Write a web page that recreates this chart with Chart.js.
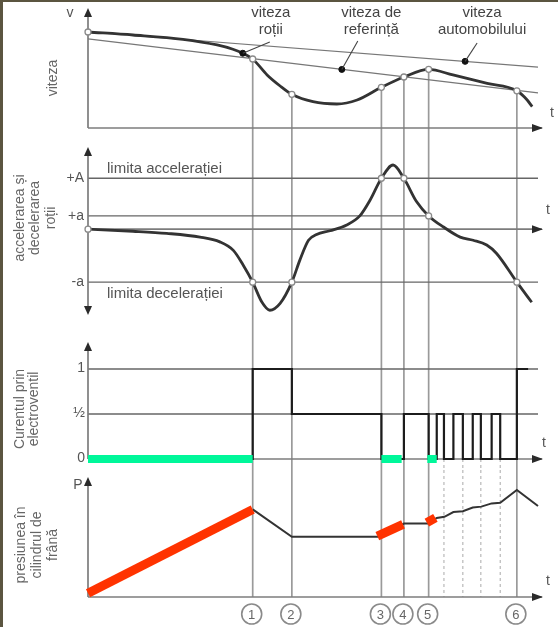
<!DOCTYPE html>
<html>
<head>
<meta charset="utf-8">
<script src="https://cdn.jsdelivr.net/npm/chart.js@4.4.1/dist/chart.umd.min.js"></script>
<style>
  html, body { margin: 0; padding: 0; background: #fff; }
  #wrap { position: relative; width: 558px; height: 627px; overflow: hidden; background: #fff; }
  #wrap canvas { position: absolute; left: 0; }
  .edge { position: absolute; background: #5b5540; }
</style>
</head>
<body>
<div id="wrap">
  <canvas id="cSpeed" width="558" height="137" style="top:0px"></canvas>
  <canvas id="cAccel" width="558" height="193" style="top:137px"></canvas>
  <canvas id="cCurrent" width="558" height="140" style="top:330px"></canvas>
  <canvas id="cPressure" width="558" height="157" style="top:470px"></canvas>
  <div class="edge" style="left:0;top:0;width:3px;height:627px"></div>
  <div class="edge" style="left:0;top:0;width:558px;height:2px"></div>
</div>
<script>
// ---------- switching instants (time axis 0..100) ----------
const eventTimes = [36.6, 45.3, 65.2, 70.2, 75.7, 95.3];
const eventNames = ['1', '2', '3', '4', '5', '6'];
const pulseFallTimes = [79.1, 83.3, 87.3, 91.6];

// ---------- speeds ----------
const wheelT = [0, 10, 21.1, 28.7, 32.2, 34.4, 36.6, 39.8, 42.7, 45.3, 50, 55.3, 59.8, 65.2, 70.2, 75.7, 81.1, 88.7, 95.3, 97.6, 98.7];
const wheelV = [80, 77.5, 73.9, 69.2, 65.6, 62.3, 57.5, 44.2, 35, 28.1, 21.9, 20, 23.3, 33.9, 42.5, 48.9, 44.2, 37.2, 31, 23.3, 17.8];
const vehicleT = [0, 100];
const vehicleV = [80, 50.8];
const referenceT = [0, 100];
const referenceV = [74.2, 29.2];
const speedNoteText = [['viteza', 'roții'], ['viteza de', 'referință'], ['viteza', 'automobilului']];
const speedNoteT = [34.4, 56.4, 83.8];

// ---------- wheel acceleration / deceleration ----------
const accelT = [0, 10, 17.5, 24.9, 29.3, 32.3, 34.5, 36.6, 38.6, 40.4, 42.7, 45.3, 47.1, 49.0, 50.8, 53.8, 57.5, 60.4, 62.7, 65.2, 67.8, 70.2, 73.0, 75.7, 79.0, 82.7, 85.6, 88.6, 90.8, 95.3, 98.6];
const accelV = [0, -0.4, -0.8, -1.5, -2.4, -4, -6.8, -10, -13.7, -15.3, -14, -10, -5.8, -2.1, -1.0, -0.3, 0.8, 2.5, 5.5, 9.6, 12.1, 9.6, 5.2, 2.5, 0.4, -1.5, -2.1, -3.0, -4.6, -10, -13.8];
const accelLimitHigh = 9.6;
const accelLimitLow = 2.5;
const decelLimit = -10;
const accelTickText = ['+A', '+a', '-a'];

// ---------- solenoid valve current ----------
const currentT = [0, 36.6, 45.3, 65.2, 70.2, 75.7, 77.5, 79.1, 81.2, 83.3, 85.5, 87.3, 89.7, 91.6, 95.3, 97.8];
const currentV = [0, 1, 0.5, 0, 0.5, 0, 0.5, 0, 0.5, 0, 0.5, 0, 0.5, 0, 1, 1];
const currentLevels = [1, 0.5, 0];
const currentTickText = ['1', '½', '0'];
const buildStartT = [0, 65.2, 75.4];
const buildEndT = [36.6, 69.7, 77.5];

// ---------- brake cylinder pressure ----------
const pressureT = [36.6, 45.3, 65.2, 70.2, 75.7, 77.5, 79.2, 81.2, 83.3, 85.5, 87.4, 89.7, 91.6, 95.3, 100];
const pressureP = [73, 50.2, 50.2, 61.2, 61.2, 65.8, 66.8, 70.8, 71.5, 74.5, 75.3, 78, 78.6, 89.2, 75.8];
const riseStartT = [0, 64.3, 75.3];
const riseEndT = [36.6, 70.0, 77.2];
const riseStartP = [3.1, 50.8, 61.9];
const riseEndP = [73, 60.5, 66];

// ---------- helpers ----------
const FONT = "'Liberation Sans', Arial, sans-serif";
const GUIDE = '#9a9a9a';
const AXIS = '#7c7c7c';
const LEVEL = '#666';
const INK = '#333';
const TXT = '#555';

function valueAt(ts, vs, t) {
  for (let i = 0; i < ts.length - 1; i++) {
    if (t >= ts[i] && t <= ts[i + 1]) {
      const f = (t - ts[i]) / (ts[i + 1] - ts[i]);
      return vs[i] + f * (vs[i + 1] - vs[i]);
    }
  }
  return vs[vs.length - 1];
}
const toPoints = (ts, vs) => ts.map((t, i) => ({ x: t, y: vs[i] }));

function seg(ctx, x1, y1, x2, y2, color, w, dash) {
  ctx.save();
  ctx.strokeStyle = color; ctx.lineWidth = w; ctx.setLineDash(dash || []);
  ctx.beginPath(); ctx.moveTo(x1, y1); ctx.lineTo(x2, y2); ctx.stroke();
  ctx.restore();
}
function tri(ctx, p) {
  ctx.save(); ctx.fillStyle = '#2a2a2a';
  ctx.beginPath(); ctx.moveTo(p[0][0], p[0][1]); ctx.lineTo(p[1][0], p[1][1]); ctx.lineTo(p[2][0], p[2][1]);
  ctx.closePath(); ctx.fill(); ctx.restore();
}
const upArrow = (ctx, x, y) => tri(ctx, [[x, y], [x - 4, y + 9], [x + 4, y + 9]]);
const downArrow = (ctx, x, y) => tri(ctx, [[x, y], [x - 4, y - 9], [x + 4, y - 9]]);
const rightArrow = (ctx, x, y) => tri(ctx, [[x, y], [x - 11, y - 4], [x - 11, y + 4]]);

function label(ctx, s, x, y, size, align, color) {
  ctx.save();
  ctx.font = size + 'px ' + FONT; ctx.fillStyle = color || TXT;
  ctx.textAlign = align || 'center'; ctx.textBaseline = 'middle';
  ctx.fillText(s, x, y); ctx.restore();
}
function sideTitle(ctx, lines, xs, cy) {
  ctx.save();
  ctx.font = '14px ' + FONT; ctx.fillStyle = '#666';
  ctx.textAlign = 'center'; ctx.textBaseline = 'middle';
  lines.forEach((s, i) => {
    ctx.save(); ctx.translate(xs[i], cy); ctx.rotate(-Math.PI / 2);
    ctx.fillText(s, 0, 0); ctx.restore();
  });
  ctx.restore();
}
function bottomAxis(ctx, a, y0) {
  seg(ctx, a.left, y0, a.right + 4, y0, AXIS, 1.7);
  rightArrow(ctx, a.right + 5, y0);
}

function baseOptions(yMin, yMax, padTop, padBottom) {
  return {
    responsive: false,
    animation: false,
    events: [],
    layout: { padding: { left: 88, right: 20, top: padTop, bottom: padBottom } },
    scales: {
      x: { type: 'linear', min: 0, max: 100, display: false },
      y: { type: 'linear', min: yMin, max: yMax, display: false }
    },
    plugins: { legend: { display: false }, tooltip: { enabled: false } },
    elements: { point: { radius: 0 } }
  };
}
function markerSet(points, order) {
  return {
    data: points, showLine: false, order: order, clip: false,
    pointRadius: 3, pointBackgroundColor: '#fff', pointBorderColor: '#8a8a8a', pointBorderWidth: 1.3
  };
}

// ---------- panel 1: speeds ----------
new Chart(document.getElementById('cSpeed'), {
  type: 'line',
  data: {
    datasets: [
      markerSet([0, ...eventTimes].map(t => ({ x: t, y: valueAt(wheelT, wheelV, t) })), 0),
      {
        data: [
          { x: speedNoteT[0], y: valueAt(wheelT, wheelV, speedNoteT[0]) },
          { x: speedNoteT[1], y: valueAt(referenceT, referenceV, speedNoteT[1]) },
          { x: speedNoteT[2], y: valueAt(vehicleT, vehicleV, speedNoteT[2]) }
        ],
        showLine: false, order: 1, pointRadius: 3, pointBackgroundColor: '#111', pointBorderColor: '#111'
      },
      { data: toPoints(wheelT, wheelV), borderColor: INK, borderWidth: 2.8, cubicInterpolationMode: 'monotone', order: 2, clip: false },
      { data: toPoints(vehicleT, vehicleV), borderColor: '#777', borderWidth: 1.2, order: 3, clip: false },
      { data: toPoints(referenceT, referenceV), borderColor: '#777', borderWidth: 1.2, order: 3, clip: false }
    ]
  },
  options: baseOptions(0, 100, 8, 9),
  plugins: [{
    id: 'speedDecor',
    beforeDatasetsDraw(chart) {
      const { ctx, chartArea: a, scales: { x, y } } = chart;
      eventTimes.forEach(t => {
        const px = x.getPixelForValue(t);
        seg(ctx, px, y.getPixelForValue(valueAt(wheelT, wheelV, t)), px, chart.height, GUIDE, 1.7);
      });
      const y0 = y.getPixelForValue(0);
      seg(ctx, a.left, a.top + 4, a.left, y0, AXIS, 1.7);
      upArrow(ctx, a.left, a.top);
      bottomAxis(ctx, a, y0);
    },
    afterDatasetsDraw(chart) {
      const { ctx, chartArea: a, scales: { x, y } } = chart;
      const y0 = y.getPixelForValue(0);
      label(ctx, 'v', a.left - 18, a.top + 5, 14);
      label(ctx, 't', a.right + 14, y0 - 15, 14);
      sideTitle(ctx, ['viteza'], [53], 78);
      const textDx = [28, 29.5, 17];
      const leadDx = [27, 16, 12];
      const leadY = [42, 41, 43];
      const dots = chart.getDatasetMeta(1).data;
      speedNoteText.forEach((lines, i) => {
        const d = dots[i];
        seg(ctx, d.x, d.y, d.x + leadDx[i], leadY[i], '#444', 1.1);
        label(ctx, lines[0], d.x + textDx[i], 13, 15, 'center', '#444');
        label(ctx, lines[1], d.x + textDx[i], 30, 15, 'center', '#444');
      });
    }
  }]
});

// ---------- panel 2: wheel acceleration ----------
new Chart(document.getElementById('cAccel'), {
  type: 'line',
  data: {
    datasets: [
      markerSet([0, ...eventTimes].map(t => ({ x: t, y: valueAt(accelT, accelV, t) })), 0),
      { data: toPoints(accelT, accelV), borderColor: INK, borderWidth: 2.8, cubicInterpolationMode: 'monotone', order: 1, clip: false }
    ]
  },
  options: baseOptions(-16.2, 15.5, 10, 15),
  plugins: [{
    id: 'accelDecor',
    beforeDatasetsDraw(chart) {
      const { ctx, chartArea: a, scales: { x, y } } = chart;
      eventTimes.forEach(t => {
        const px = x.getPixelForValue(t);
        seg(ctx, px, 0, px, chart.height, GUIDE, 1.7);
      });
      const yHigh = y.getPixelForValue(accelLimitHigh);
      const yLow = y.getPixelForValue(accelLimitLow);
      const yDec = y.getPixelForValue(decelLimit);
      seg(ctx, a.left, yHigh, a.right, yHigh, LEVEL, 1.3);
      seg(ctx, a.left, yLow, x.getPixelForValue(eventTimes[4]), yLow, LEVEL, 1.3);
      seg(ctx, a.left, yDec, a.right, yDec, LEVEL, 1.3);
      seg(ctx, a.left, a.top + 4, a.left, a.bottom - 4, AXIS, 1.7);
      upArrow(ctx, a.left, a.top);
      downArrow(ctx, a.left, a.bottom);
      bottomAxis(ctx, a, y.getPixelForValue(0));
    },
    afterDatasetsDraw(chart) {
      const { ctx, chartArea: a, scales: { y } } = chart;
      const levels = [accelLimitHigh, accelLimitLow, decelLimit];
      levels.forEach((v, i) => label(ctx, accelTickText[i], a.left - 4, y.getPixelForValue(v), 14, 'right'));
      label(ctx, 't', a.right + 10, y.getPixelForValue(0) - 19, 14);
      label(ctx, 'limita accelerației', a.left + 19, y.getPixelForValue(accelLimitHigh) - 9, 15, 'left');
      label(ctx, 'limita decelerației', a.left + 19, y.getPixelForValue(decelLimit) + 12, 15, 'left');
      sideTitle(ctx, ['accelerarea și', 'decelerarea', 'roții'], [20, 35, 51], 81);
    }
  }]
});

// ---------- panel 3: solenoid valve current ----------
new Chart(document.getElementById('cCurrent'), {
  type: 'line',
  data: {
    datasets: [
      ...buildStartT.map((t0, i) => ({
        data: [{ x: t0, y: 0 }, { x: buildEndT[i], y: 0 }],
        borderColor: '#00f79a', borderWidth: 8, borderCapStyle: 'butt', order: 0, clip: false
      })),
      { data: toPoints(currentT, currentV), borderColor: '#1c1c1c', borderWidth: 2.2, stepped: 'before', order: 1, clip: false }
    ]
  },
  options: baseOptions(0, 1.3, 12, 11),
  plugins: [{
    id: 'currentDecor',
    beforeDatasetsDraw(chart) {
      const { ctx, chartArea: a, scales: { x, y } } = chart;
      const y0 = y.getPixelForValue(0);
      eventTimes.forEach(t => {
        const px = x.getPixelForValue(t);
        seg(ctx, px, 0, px, chart.height, GUIDE, 1.7);
      });
      pulseFallTimes.forEach(t => {
        const px = x.getPixelForValue(t);
        seg(ctx, px, y0, px, chart.height, '#aaa', 1, [3, 3]);
      });
      [1, 0.5].forEach(v => seg(ctx, a.left, y.getPixelForValue(v), a.right, y.getPixelForValue(v), LEVEL, 1.3));
      seg(ctx, a.left, a.top + 4, a.left, y0, AXIS, 1.7);
      upArrow(ctx, a.left, a.top);
      bottomAxis(ctx, a, y0);
    },
    afterDatasetsDraw(chart) {
      const { ctx, chartArea: a, scales: { y } } = chart;
      currentLevels.forEach((v, i) => label(ctx, currentTickText[i], a.left - 3, y.getPixelForValue(v) - 1, 14, 'right'));
      label(ctx, 't', a.right + 6, y.getPixelForValue(0) - 16, 14);
      sideTitle(ctx, ['Curentul prin', 'electroventil'], [20, 34], 79);
    }
  }]
});

// ---------- panel 4: brake cylinder pressure ----------
new Chart(document.getElementById('cPressure'), {
  type: 'line',
  data: {
    datasets: [
      ...riseStartT.map((t0, i) => ({
        data: [{ x: t0, y: riseStartP[i] }, { x: riseEndT[i], y: riseEndP[i] }],
        borderColor: '#ff3300', borderWidth: 9, borderCapStyle: 'butt', order: 0, clip: false
      })),
      { data: toPoints(pressureT, pressureP), borderColor: INK, borderWidth: 2, order: 1, clip: false }
    ]
  },
  options: baseOptions(0, 100, 7, 30),
  plugins: [{
    id: 'pressureDecor',
    beforeDatasetsDraw(chart) {
      const { ctx, chartArea: a, scales: { x, y } } = chart;
      const y0 = y.getPixelForValue(0);
      eventTimes.forEach(t => {
        const px = x.getPixelForValue(t);
        seg(ctx, px, 0, px, y0, GUIDE, 1.7);
      });
      pulseFallTimes.forEach(t => {
        const px = x.getPixelForValue(t);
        seg(ctx, px, 0, px, y0, '#aaa', 1, [3, 3]);
      });
      seg(ctx, a.left, a.top + 4, a.left, y0, AXIS, 1.7);
      upArrow(ctx, a.left, a.top);
      bottomAxis(ctx, a, y0);
    },
    afterDatasetsDraw(chart) {
      const { ctx, chartArea: a, scales: { x, y } } = chart;
      const y0 = y.getPixelForValue(0);
      label(ctx, 'P', a.left - 10, a.top + 8, 14, 'center');
      label(ctx, 't', a.right + 10, y0 - 16, 14);
      sideTitle(ctx, ['presiunea în', 'cilindrul de', 'frână'], [21, 37, 53], 75);
      eventTimes.forEach((t, i) => {
        const px = x.getPixelForValue(t) - 1;
        const cy = y0 + 17;
        ctx.save();
        ctx.strokeStyle = '#8a8a8a'; ctx.lineWidth = 1.6;
        ctx.beginPath(); ctx.arc(px, cy, 10, 0, Math.PI * 2); ctx.stroke();
        ctx.restore();
        label(ctx, eventNames[i], px, cy + 1, 13, 'center', '#666');
      });
    }
  }]
});
</script>
</body>
</html>
